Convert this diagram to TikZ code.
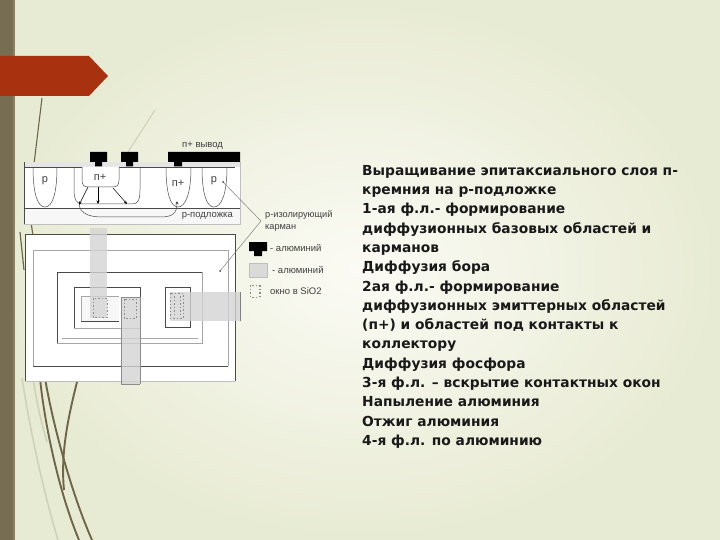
\documentclass[tikz,border=0pt]{standalone}
\usepackage{fontspec}
\setmainfont{DejaVu Sans}
\newfontfamily\labfont{Liberation Sans}
\usetikzlibrary{arrows.meta}
\definecolor{stripe}{HTML}{776D52}
\definecolor{stripeb}{HTML}{8A8066}
\definecolor{arrowred}{HTML}{A8320F}
\definecolor{bgedge}{HTML}{E8EBD3}
\definecolor{bgmid}{HTML}{FBFBF5}
\definecolor{metal}{HTML}{D4D4D4}
\definecolor{line}{HTML}{4A4A4A}
\definecolor{stem}{HTML}{6F664A}
\definecolor{pale}{HTML}{CDD1B6}
\tikzset{
  chip/.style={fill=white,draw=line,line width=.7pt},
  plan/.style={draw=line,line width=.7pt},
  planlight/.style={draw=black!35,line width=.5pt},
  well/.style={draw=line,line width=.5pt},
  alum/.style={fill=metal,draw=none,fill opacity=.8},
  win/.style={draw=black!45,line width=.5pt,dash pattern=on 1.5pt off 2pt},
  contact/.style={fill=black,draw=none},
  flow/.style={draw=black,line width=.5pt,-{Stealth[length=3.5pt,width=3pt]}},
  lbl/.style={font=\labfont\fontsize{9.5}{11}\selectfont,text=black!75,inner sep=0pt},
  biglbl/.style={font=\labfont\fontsize{11}{13}\selectfont,text=black!75,inner sep=0pt},
  stemline/.style={draw=stem,line width=1.9pt},
  paleline/.style={draw=pale,line width=1.5pt}
}
\begin{document}
\begin{tikzpicture}[x=1pt,y=-1pt]
\useasboundingbox (0,0) rectangle (720,540);
% background
\shade[inner color=bgmid,outer color=bgedge] (0,0) rectangle (720,540);
\fill[stripe] (0,0) rectangle (13,540);
\fill[stripeb] (13,0) rectangle (15,540);
% plant stems
\draw[paleline] (22,378) .. controls (30,430) and (43,490) .. (58,540);
\draw[paleline] (33,378) .. controls (37,405) and (42,425) .. (47,442);
\draw[paleline,line width=1pt] (155,110) -- (128,152);
\draw[stemline,line width=1.1pt] (42,98) -- (34,164);
\draw[stemline,line width=1.2pt] (31,222) -- (33,236);
\draw[stemline] (40,378) .. controls (44,420) and (58,490) .. (79,540);
\draw[stemline] (45,378) .. controls (52,420) and (70,490) .. (92,540);
\draw[stemline] (78,378) .. controls (70,410) and (60,450) .. (64,490);
\draw[stemline,line width=1.2pt] (20,232) -- (24,270);
% red arrow
\fill[arrowred] (0,56) -- (89,56) -- (108,76) -- (89,96) -- (0,96) -- cycle;
% cross-section
\fill[black!10] (24,162) rectangle (240,167);
\fill[white] (24,167) rectangle (240,208);
\fill[white!97!black] (24,208) rectangle (240,224);
\draw[line,line width=.6pt] (24,162) -- (24,224);
\draw[line,line width=.7pt] (24,167) -- (235,167);
\draw[line,line width=.6pt] (24,208) -- (240,208);
\draw[black!25,line width=.6pt] (24,224) -- (240,224) -- (240,162);
% wells
\draw[well] (33,167) .. controls (33,195) and (38,207) .. (45,207) .. controls (52,207) and (57,195) .. (57,167);
\draw[well] (74,167) -- (74,190) .. controls (74,200) and (77,204) .. (82,204) -- (132,204) .. controls (138,204) and (140,200) .. (140,190) -- (140,167);
\draw[well,fill=white] (82,167) -- (82,180) .. controls (82,185) and (84,187) .. (88,187) -- (113,187) .. controls (117,187) and (119,185) .. (119,180) -- (119,167);
\draw[well] (166,167) .. controls (166,195) and (171,207) .. (178,207) .. controls (185,207) and (191,195) .. (191,167);
\draw[well] (202,167) .. controls (202,195) and (207,207) .. (214,207) .. controls (221,207) and (227,195) .. (227,167);
% contacts
\fill[contact] (90,152) rectangle (107,162) (95,162) rectangle (102,166.5);
\fill[contact] (121,152) rectangle (138,162) (126,162) rectangle (133,166.5);
\fill[contact] (168,152) rectangle (240,162) (174,162) rectangle (182,166.5);
% labels in the section
\node[biglbl] (lp1) at (45,181) {р};
\node[biglbl] (ln1) at (100,177) {п+};
\node[biglbl] (ln2) at (178,183) {п+};
\node[biglbl] (lp2) at (214,181) {р};
\node[lbl,anchor=west] (lout) at (182,146) {п+ вывод};
\node[lbl,anchor=east] (lsub) at (233,216) {р-подложка};
% flow arrows
\coordinate (e1) at (88,187);
\coordinate (e2) at (98,187);
\coordinate (e3) at (113,188);
\coordinate (c1) at (79,205);
\coordinate (c2) at (98,204);
\coordinate (c3) at (127,204);
\coordinate (c4) at (177,201);
\draw[flow] (e1) -- (c1);
\draw[flow] (e2) -- (c2);
\draw[flow] (e3) -- (c3);
\draw[flow,draw=line] (c1) .. controls (81,214) and (90,217) .. (102,217) -- (160,217) .. controls (172,217) and (177,214) .. (c4);
% plan
\fill[white] (25,234) rectangle (235,381);
\draw[plan] (25,381) -- (25,234) -- (235,234) -- (235,381);
\draw[black!25,line width=.6pt] (25,381) -- (235,381);
\draw[planlight] (33,366) -- (33,250) -- (228,250) -- (228,366);
\draw[plan] (33,366) -- (228,366);
\draw[plan] (57,343) -- (57,272) -- (202,272);
\draw[planlight] (202,272) -- (202,343) -- (57,343);
\draw[planlight] (62,338) -- (198,338);
\draw[plan] (74,328) -- (74,287) -- (140,287) -- (140,328);
\draw[planlight] (74,328) -- (140,328);
\draw[plan] (165,327) -- (165,287) -- (190,287) -- (190,327) -- cycle;
\fill[black!3] (81,296) rectangle (119,321);
\draw[planlight] (81,321) -- (81,296) -- (119,296);
\draw[plan] (81,321) -- (119,321);
% aluminium
\fill[alum] (90,228) rectangle (107,318);
\fill[alum] (121,297) rectangle (140,384);
\draw[black!45,line width=.5pt] (121,384) -- (121,297) -- (140,297) -- (140,384);
\draw[black!45,line width=.6pt] (121,384) -- (140,384);
\fill[alum] (170,292) rectangle (240,321);
\draw[black!50,line width=.5pt] (240,292) -- (240,321);
% windows
\draw[win] (93,298) rectangle (107,317);
\draw[win] (124,299) rectangle (136,318);
\draw[win] (170,293) rectangle (183,318);
\draw[win] (174,296) -- (174,315) (180,296) -- (180,315);
% leader
\coordinate (lead1) at (223,182);
\coordinate (apex) at (261,221);
\coordinate (lead2) at (220,271);
\draw[black!50,line width=.5pt] (lead1) -- (apex) -- (lead2);
\fill[black!70] (lead1) circle (1pt) (lead2) circle (1pt);
% legend
\node[lbl,anchor=west,align=left,font=\labfont\fontsize{9.2}{11.5}\selectfont] (lcarman) at (265,221) {р-изолирующий\\карман};
\fill[contact] (249,242) rectangle (267,251) (254,251) rectangle (262,256);
\node[lbl,anchor=west] (lal1) at (270,248) {- алюминий};
\fill[alum,draw=black!25,line width=.5pt] (249,263) rectangle (267,277);
\node[lbl,anchor=west] (lal2) at (272,270) {- алюминий};
\draw[win] (250,285) rectangle (259,297);
\draw[win] (260,285) -- (260,297);
\node[lbl,anchor=west] (lwin) at (270,291) {окно в SiO2};
% text
\node[anchor=north west,align=left,inner sep=0pt,text=black!90,
      font=\bfseries\fontsize{13.8}{19.3}\selectfont] (body) at (362,165) {Выращивание эпитаксиального слоя п-\\
кремния на р-подложке\\
1-ая ф.л.- формирование\\
диффузионных базовых областей и\\
карманов\\
Диффузия бора\\
2ая ф.л.- формирование\\
диффузионных эмиттерных областей\\
(п+) и областей под контакты к\\
коллектору\\
Диффузия фосфора\\
3-я ф.л. – вскрытие контактных окон\\
Напыление алюминия\\
Отжиг алюминия\\
4-я ф.л. по алюминию};
\end{tikzpicture}
\end{document}
